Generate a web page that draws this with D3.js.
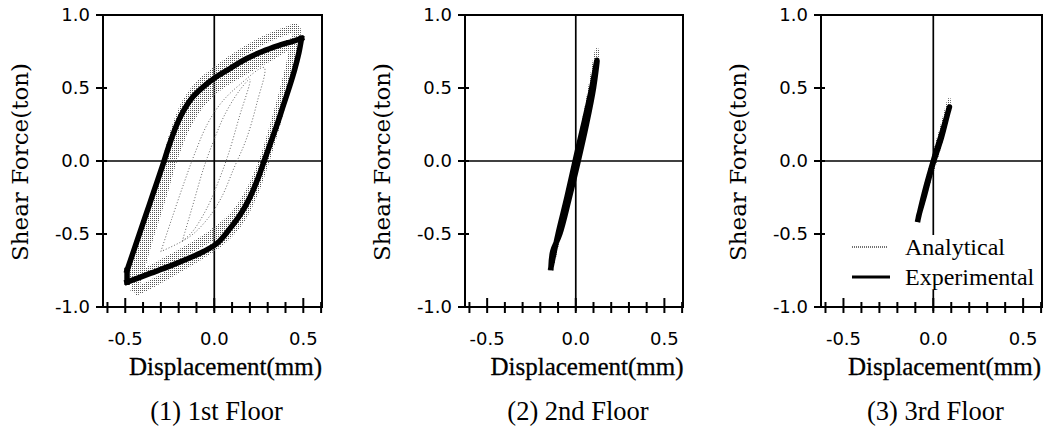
<!DOCTYPE html>
<html><head><meta charset="utf-8">
<script src="https://cdn.jsdelivr.net/npm/d3@7"></script>
<style>html,body{margin:0;padding:0;background:#fff;}svg{display:block;}</style>
</head><body>
<svg id="chart" width="1052" height="434"></svg>
<script>
// ---------- data ----------
const panelTitles = ["(1) 1st Floor", "(2) 2nd Floor", "(3) 3rd Floor"];
const xTickValues = [-0.6,-0.5,-0.4,-0.3,-0.2,-0.1,0,0.1,0.2,0.3,0.4,0.5,0.6];
const xTickLabels = [-0.5, 0.0, 0.5];
const yTickValues = [1.0, 0.5, 0.0, -0.5, -1.0];
const xLabel = "Displacement(mm)";
const yLabel = "Shear Force(ton)";
const legendLabels = ["Analytical", "Experimental"];

// Panel 1 experimental loop (loading branch / unloading branch / closing segment)
const exp1Up = [[-0.49,-0.75],[-0.44,-0.57],[-0.39,-0.39],[-0.34,-0.21],[-0.29,-0.03],[-0.25,0.12],[-0.21,0.25],[-0.17,0.35],[-0.12,0.44],[-0.06,0.51],[0.01,0.575],[0.09,0.635],[0.18,0.70],[0.27,0.75],[0.36,0.79],[0.44,0.82],[0.49,0.84]];
const exp1Down = [[0.49,0.84],[0.475,0.74],[0.45,0.62],[0.42,0.50],[0.385,0.37],[0.35,0.24],[0.315,0.12],[0.28,0.00],[0.245,-0.12],[0.20,-0.25],[0.15,-0.36],[0.09,-0.46],[0.02,-0.56],[-0.06,-0.62],[-0.15,-0.67],[-0.25,-0.72],[-0.36,-0.77],[-0.49,-0.83]];
const exp1Close = [[-0.49,-0.83],[-0.49,-0.75]];

// Panel 1 analytical cycles
const ana1A = [[-0.45,-0.90],[-0.41,-0.70],[-0.36,-0.45],[-0.31,-0.20],[-0.27,0.00],[-0.22,0.22],[-0.16,0.40],[-0.08,0.53],[0.02,0.63],[0.15,0.74],[0.28,0.83],[0.40,0.89],[0.46,0.91],
               [0.44,0.75],[0.40,0.52],[0.35,0.28],[0.29,0.02],[0.23,-0.20],[0.15,-0.40],[0.05,-0.54],[-0.08,-0.65],[-0.22,-0.75],[-0.35,-0.84],[-0.45,-0.90]];
const ana1B = [[-0.47,-0.80],[-0.40,-0.55],[-0.34,-0.30],[-0.26,0.00],[-0.20,0.20],[-0.13,0.36],[-0.05,0.48],[0.05,0.57],[0.20,0.68],[0.35,0.77],[0.47,0.82],
               [0.43,0.62],[0.38,0.38],[0.32,0.12],[0.26,-0.10],[0.18,-0.30],[0.08,-0.45],[-0.05,-0.55],[-0.20,-0.65],[-0.35,-0.74],[-0.47,-0.80]];
const ana1C = [[-0.42,-0.78],[-0.36,-0.52],[-0.29,-0.25],[-0.23,0.00],[-0.16,0.22],[-0.08,0.38],[0.02,0.50],[0.15,0.60],[0.30,0.70],[0.44,0.78],
               [0.40,0.55],[0.34,0.28],[0.27,0.00],[0.19,-0.22],[0.10,-0.38],[-0.02,-0.50],[-0.15,-0.60],[-0.30,-0.70],[-0.42,-0.78]];
const ana1D = [[-0.30,-0.62],[-0.24,-0.40],[-0.17,-0.15],[-0.11,0.05],[-0.04,0.25],[0.04,0.40],[0.14,0.52],[0.28,0.64],
               [0.24,0.40],[0.18,0.15],[0.11,-0.05],[0.04,-0.25],[-0.04,-0.40],[-0.14,-0.52],[-0.30,-0.62]];
const ana1E = [[-0.18,-0.55],[-0.12,-0.30],[-0.06,-0.05],[0.00,0.15],[0.06,0.32],[0.14,0.48],[0.20,0.56],
               [0.14,0.30],[0.08,0.05],[0.02,-0.15],[-0.04,-0.32],[-0.12,-0.48],[-0.18,-0.55]];

// Panel 2
const exp2 = [[-0.14,-0.73],[-0.10,-0.50],[-0.05,-0.25],[0.00,0.02],[0.05,0.28],[0.09,0.50],[0.12,0.69],
              [0.10,0.50],[0.06,0.25],[0.01,-0.02],[-0.04,-0.27],[-0.09,-0.50],[-0.13,-0.62],[-0.14,-0.73]];
const ana2 = [[-0.13,-0.70],[-0.06,-0.32],[0.00,0.00],[0.06,0.36],[0.12,0.76],[0.11,0.60],[0.05,0.26],[-0.01,-0.05],[-0.13,-0.70]];

// Panel 3
const exp3 = [[-0.085,-0.40],[-0.05,-0.22],[0.00,0.00],[0.05,0.20],[0.09,0.37],
              [0.085,0.35],[0.045,0.16],[-0.005,-0.03],[-0.05,-0.24],[-0.08,-0.37],[-0.085,-0.40]];
const ana3 = [[-0.08,-0.38],[-0.03,-0.12],[0.00,0.02],[0.05,0.24],[0.09,0.42],[0.07,0.28],[0.02,0.04],[-0.04,-0.20],[-0.08,-0.38]];

// ---------- layout ----------
const svg = d3.select("#chart");
const yTop = 15, yBottom = 307;
const panels = [
  {left:103, width:219, exp:[exp1Up, exp1Down, exp1Close], ana:[ana1A, ana1B, ana1C], anaThin:[ana1D, ana1E]},
  {left:465, width:218, exp:[exp2], ana:[ana2], anaThin:[]},
  {left:821, width:221, exp:[exp3], ana:[ana3], anaThin:[]}
];

const defs = svg.append("defs");
const pat = defs.append("pattern").attr("id","stip").attr("patternUnits","userSpaceOnUse")
  .attr("width",2).attr("height",2);
pat.append("rect").attr("width",1).attr("height",1).attr("fill","#555");

panels.forEach((p, i) => {
  const x = d3.scaleLinear().domain([-0.625, 0.605]).range([p.left, p.left + p.width]);
  const y = d3.scaleLinear().domain([-1, 1]).range([yBottom, yTop]);
  const g = svg.append("g");
  const line = d3.line().x(d => x(d[0])).y(d => y(d[1])).curve(d3.curveCatmullRom.alpha(0.5));

  // zero lines
  g.append("line").attr("x1", x(0)).attr("x2", x(0)).attr("y1", yTop).attr("y2", yBottom + 4)
    .attr("stroke","#000").attr("stroke-width",1.7);
  g.append("line").attr("x1", p.left).attr("x2", p.left + p.width).attr("y1", y(0)).attr("y2", y(0))
    .attr("stroke","#000").attr("stroke-width",1.7);

  // analytical
  p.ana.forEach((d, k) => {
    g.append("path").attr("d", line(d)).attr("fill","none")
      .attr("stroke","url(#stip)").attr("stroke-width", i === 0 ? (k === 0 ? 8 : 7) : 4)
      .attr("stroke-linejoin","round");
  });
  p.anaThin.forEach(d => {
    g.append("path").attr("d", line(d)).attr("fill","none")
      .attr("stroke","#666").attr("stroke-width",1).attr("stroke-dasharray","1,2");
  });

  // experimental
  p.exp.forEach(d => {
    g.append("path").attr("d", line(d)).attr("fill","none")
      .attr("stroke","#000").attr("stroke-width", 5.5)
      .attr("stroke-linejoin","miter").attr("stroke-linecap","square");
  });

  // frame
  g.append("rect").attr("x", p.left).attr("y", yTop).attr("width", p.width).attr("height", yBottom - yTop)
    .attr("fill","none").attr("stroke","#000").attr("stroke-width",2);

  // y ticks
  yTickValues.forEach(v => {
    g.append("line").attr("x1", p.left - 7).attr("x2", p.left + 4).attr("y1", y(v)).attr("y2", y(v))
      .attr("stroke","#000").attr("stroke-width",2);
    g.append("text").attr("x", p.left - 13).attr("y", y(v)).attr("dy","0.36em")
      .attr("text-anchor","end").attr("font-family","DejaVu Sans").attr("font-size",18)
      .text(v.toFixed(1));
  });
  // x ticks
  xTickValues.forEach(v => {
    const major = xTickLabels.some(m => Math.abs(m - v) < 1e-9);
    g.append("line").attr("x1", x(v)).attr("x2", x(v))
      .attr("y1", yBottom - (major ? 9 : 5)).attr("y2", yBottom + 6)
      .attr("stroke","#000").attr("stroke-width",2);
  });
  xTickLabels.forEach(v => {
    g.append("text").attr("x", x(v)).attr("y", yBottom + 38).attr("text-anchor","middle")
      .attr("font-family","DejaVu Sans").attr("font-size",18).text(v.toFixed(1));
  });

  // axis labels
  g.append("text").attr("x", p.left + p.width / 2 + 13).attr("y", 375).attr("text-anchor","middle")
    .attr("font-family","Liberation Serif").attr("font-size",25)
    .attr("stroke","#000").attr("stroke-width",0.3).text(xLabel);
  g.append("text").attr("transform", `translate(${p.left - 75},${(yTop + yBottom) / 2 + 1}) rotate(-90)`)
    .attr("text-anchor","middle").attr("font-family","DejaVu Serif").attr("font-size",23).text(yLabel);
  // title
  g.append("text").attr("x", p.left + p.width / 2 + 4).attr("y", 420).attr("text-anchor","middle")
    .attr("font-family","Liberation Serif").attr("font-size",26.5).text(panelTitles[i]);

  // legend on panel 3
  if (i === 2) {
    const lg = g.append("g");
    lg.append("rect").attr("x", 846).attr("y", 235).attr("width", 194).attr("height", 55).attr("fill","#fff");
    lg.append("line").attr("x1", 852).attr("x2", 888).attr("y1", 247).attr("y2", 247)
      .attr("stroke","#444").attr("stroke-width",1.5).attr("stroke-dasharray","1,1");
    lg.append("line").attr("x1", 852).attr("x2", 890).attr("y1", 277).attr("y2", 277)
      .attr("stroke","#000").attr("stroke-width",3);
    lg.append("text").attr("x", 905).attr("y", 255).attr("font-family","Liberation Serif")
      .attr("font-size",24).text(legendLabels[0]);
    lg.append("text").attr("x", 905).attr("y", 285).attr("font-family","Liberation Serif")
      .attr("font-size",24).text(legendLabels[1]);
  }
});
</script>
</body></html>
